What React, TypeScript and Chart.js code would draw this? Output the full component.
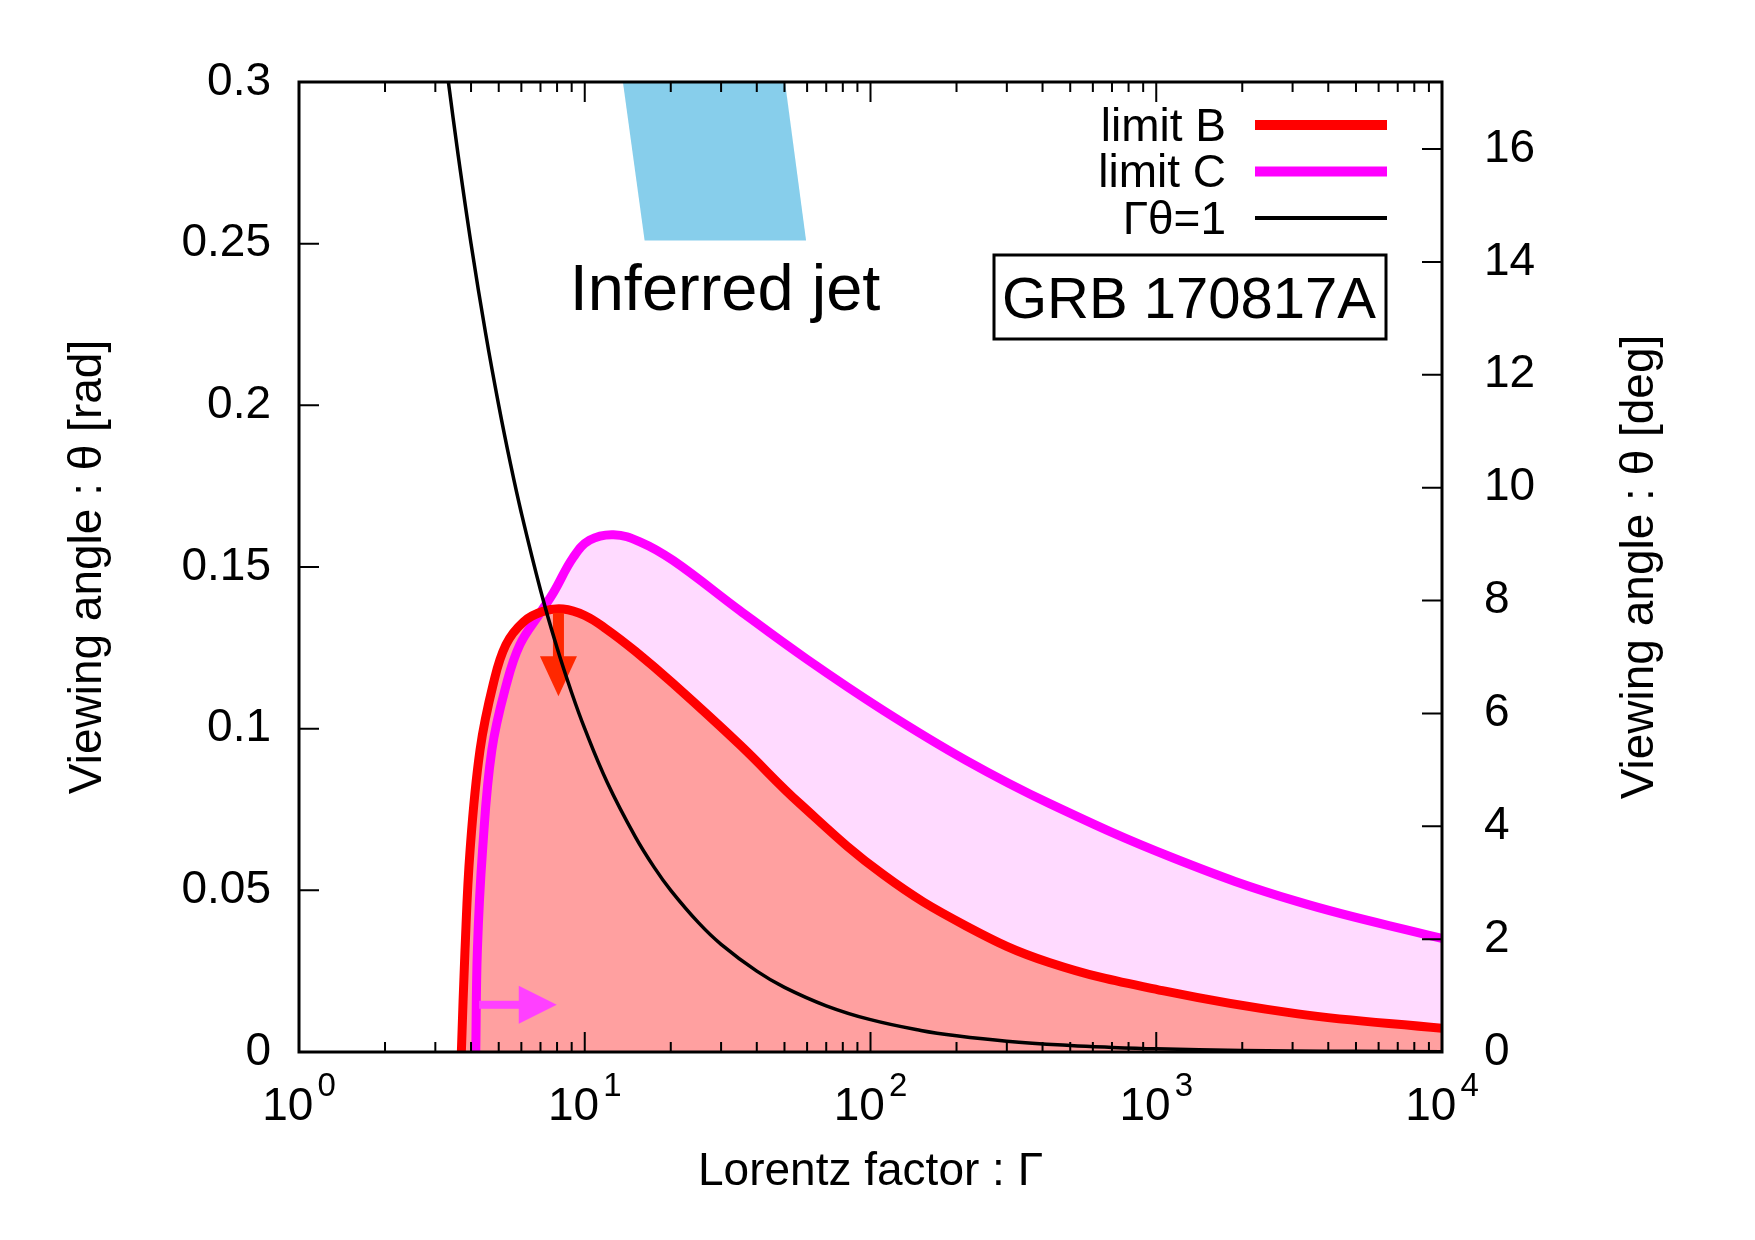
import { useEffect, useRef } from 'react';
import { Chart, registerables } from 'chart.js';

Chart.register(...registerables);

const FONT_FAMILY = '"Liberation Sans", Arial, Helvetica, sans-serif';
const font = (size: number) => `${size}px ${FONT_FAMILY}`;

// limit B curve (Lorentz factor, viewing angle in rad)
const LIMIT_B_GAMMA = [3.70, 3.81, 3.97, 4.30, 4.79, 5.3, 6.1, 7.1, 8.4, 10, 11.9, 15, 20.4, 34.9, 56.6, 110.6, 216, 422, 1074, 3130, 10000];
const LIMIT_B_THETA = [0, 0.0315, 0.0625, 0.0934, 0.114, 0.126, 0.133, 0.1362, 0.1370, 0.1350, 0.1308, 0.1240, 0.1139, 0.0950, 0.0768, 0.0549, 0.0390, 0.0277, 0.0188, 0.0118, 0.0073];

// limit C curve
const LIMIT_C_GAMMA = [4.155, 4.21, 4.39, 4.73, 5.33, 5.93, 6.97, 7.76, 9.12, 10.4, 12.6, 15.6, 20.4, 34.9, 59.8, 110.6, 216, 422, 1148, 3130, 10000];
const LIMIT_C_THETA = [0, 0.0315, 0.0625, 0.0934, 0.114, 0.126, 0.1357, 0.142, 0.153, 0.1583, 0.16, 0.1578, 0.152, 0.1365, 0.1215, 0.1057, 0.0902, 0.0769, 0.0600, 0.0465, 0.0351];

// Γθ = 1 line
const UNITY_GAMMA = [3.333, 3.6, 4, 4.5, 5, 5.5, 6, 7, 8, 9, 10, 12, 15, 17.5, 20, 25, 30, 40, 50, 70, 100, 150, 200, 300, 500, 700, 1000, 2000, 3000, 5000, 10000];
const UNITY_THETA = [0.3, 0.2778, 0.25, 0.2222, 0.2, 0.1818, 0.1667, 0.1429, 0.125, 0.1111, 0.1, 0.0833, 0.0667, 0.0571, 0.05, 0.04, 0.0333, 0.025, 0.02, 0.0143, 0.01, 0.00667, 0.005, 0.00333, 0.002, 0.00143, 0.001, 0.0005, 0.00033, 0.0002, 0.0001];

// inferred jet region (corners: top-left, top-right, bottom-right, bottom-left)
const JET_GAMMA = [13.6, 50.2, 59.5, 16.2];
const JET_THETA = [0.3, 0.3, 0.251, 0.251];

// arrows: [start, end]
const ARROW_B_GAMMA = [8.09, 8.09];
const ARROW_B_THETA = [0.1358, 0.110];
const ARROW_C_GAMMA = [4.27, 7.98];
const ARROW_C_THETA = [0.0146, 0.0146];

// axis ticks
const RAD_TICKS = [0, 0.05, 0.1, 0.15, 0.2, 0.25, 0.3];
const RAD_LABELS = ['0', '0.05', '0.1', '0.15', '0.2', '0.25', '0.3'];
const DEG_TICKS = [0, 2, 4, 6, 8, 10, 12, 14, 16];
const DECADE_EXPONENTS = [0, 1, 2, 3, 4];
const MINOR_MULTIPLIERS = [2, 3, 4, 5, 6, 7, 8, 9];

const LEGEND_LABELS = ['limit B', 'limit C', 'Γθ=1'];
const LEGEND_COLORS = ['#ff0000', '#ff00ff', '#000000'];
const LEGEND_WIDTHS = [10, 10, 4];

const TEXT_SIZE = 46;

const toPoints = (xs: number[], ys: number[]) => xs.map((x, i) => ({ x, y: ys[i] }));

function drawArrow(
  ctx: CanvasRenderingContext2D,
  x1: number, y1: number, x2: number, y2: number,
  shaft: number, headLen: number, headWidth: number, color: string,
) {
  const ang = Math.atan2(y2 - y1, x2 - x1);
  const len = Math.hypot(x2 - x1, y2 - y1);
  ctx.save();
  ctx.translate(x1, y1);
  ctx.rotate(ang);
  ctx.fillStyle = color;
  ctx.fillRect(0, -shaft / 2, len - headLen + 1, shaft);
  ctx.beginPath();
  ctx.moveTo(len, 0);
  ctx.lineTo(len - headLen, -headWidth / 2);
  ctx.lineTo(len - headLen, headWidth / 2);
  ctx.closePath();
  ctx.fill();
  ctx.restore();
}

const decorations = {
  id: 'decorations',
  beforeDatasetsDraw(chart: any) {
    const { ctx, scales } = chart;
    const x = scales.x;
    const y = scales.y;
    ctx.save();
    ctx.beginPath();
    JET_GAMMA.forEach((g, i) => {
      const px = x.getPixelForValue(g);
      const py = y.getPixelForValue(JET_THETA[i]);
      if (i === 0) ctx.moveTo(px, py);
      else ctx.lineTo(px, py);
    });
    ctx.closePath();
    ctx.fillStyle = '#87ceeb';
    ctx.fill();
    ctx.restore();
  },
  afterDatasetDraw(chart: any, args: any) {
    // arrows sit above the limit curves, under the Γθ=1 line
    if (args.index !== 0) return;
    const { ctx, scales } = chart;
    const x = scales.x;
    const y = scales.y;
    drawArrow(
      ctx,
      x.getPixelForValue(ARROW_B_GAMMA[0]), y.getPixelForValue(ARROW_B_THETA[0]),
      x.getPixelForValue(ARROW_B_GAMMA[1]), y.getPixelForValue(ARROW_B_THETA[1]),
      11, 40, 37, 'rgb(255,40,0)',
    );
    drawArrow(
      ctx,
      x.getPixelForValue(ARROW_C_GAMMA[0]), y.getPixelForValue(ARROW_C_THETA[0]),
      x.getPixelForValue(ARROW_C_GAMMA[1]), y.getPixelForValue(ARROW_C_THETA[1]),
      8, 38, 38, 'rgb(255,64,255)',
    );
  },
  afterDraw(chart: any) {
    const { ctx, chartArea: a, scales } = chart;
    const x = scales.x;
    const y2 = scales.y2;
    const y = scales.y;
    ctx.save();
    ctx.strokeStyle = '#000';
    ctx.fillStyle = '#000';

    // tick marks (inward)
    ctx.lineWidth = 2;
    ctx.beginPath();
    RAD_TICKS.forEach((v) => {
      const py = y.getPixelForValue(v);
      ctx.moveTo(a.left, py);
      ctx.lineTo(a.left + 20, py);
    });
    DEG_TICKS.forEach((v) => {
      const py = y2.getPixelForValue(v);
      ctx.moveTo(a.right, py);
      ctx.lineTo(a.right - 20, py);
    });
    DECADE_EXPONENTS.forEach((e) => {
      const px = x.getPixelForValue(Math.pow(10, e));
      ctx.moveTo(px, a.bottom);
      ctx.lineTo(px, a.bottom - 20);
      ctx.moveTo(px, a.top);
      ctx.lineTo(px, a.top + 20);
      if (e < 4) {
        MINOR_MULTIPLIERS.forEach((m) => {
          const mx = x.getPixelForValue(m * Math.pow(10, e));
          ctx.moveTo(mx, a.bottom);
          ctx.lineTo(mx, a.bottom - 10);
          ctx.moveTo(mx, a.top);
          ctx.lineTo(mx, a.top + 10);
        });
      }
    });
    ctx.stroke();

    // frame
    ctx.lineWidth = 3;
    ctx.strokeRect(a.left, a.top, a.right - a.left, a.bottom - a.top);

    // x tick labels: 10^n
    ctx.textBaseline = 'alphabetic';
    ctx.textAlign = 'left';
    DECADE_EXPONENTS.forEach((e) => {
      const px = x.getPixelForValue(Math.pow(10, e));
      ctx.font = font(TEXT_SIZE);
      const wBase = ctx.measureText('10').width;
      ctx.font = font(33);
      const exp = String(e);
      const wExp = ctx.measureText(exp).width;
      const start = px - (wBase + 4 + wExp) / 2;
      ctx.font = font(TEXT_SIZE);
      ctx.fillText('10', start, a.bottom + 68);
      ctx.font = font(33);
      ctx.fillText(exp, start + wBase + 4, a.bottom + 44);
    });

    // axis titles
    ctx.font = font(TEXT_SIZE);
    ctx.textAlign = 'center';
    ctx.fillText('Lorentz factor : Γ', (a.left + a.right) / 2, a.bottom + 133);
    const midY = (a.top + a.bottom) / 2;
    ctx.textBaseline = 'middle';
    ctx.save();
    ctx.translate(88, midY);
    ctx.rotate(-Math.PI / 2);
    ctx.fillText('Viewing angle : θ [rad]', 0, 0);
    ctx.restore();
    ctx.save();
    ctx.translate(1640, midY);
    ctx.rotate(-Math.PI / 2);
    ctx.fillText('Viewing angle : θ [deg]', 0, 0);
    ctx.restore();

    // legend
    ctx.textAlign = 'right';
    ctx.textBaseline = 'middle';
    LEGEND_LABELS.forEach((label, i) => {
      const ly = a.top + 43 + i * 46.5;
      ctx.fillStyle = '#000';
      ctx.font = font(TEXT_SIZE);
      ctx.fillText(label, a.left + 927, ly + 3);
      ctx.fillStyle = LEGEND_COLORS[i];
      ctx.fillRect(a.left + 956, ly - LEGEND_WIDTHS[i] / 2, 132, LEGEND_WIDTHS[i]);
    });

    // event label box
    ctx.fillStyle = '#000';
    ctx.lineWidth = 3;
    ctx.strokeRect(a.left + 695, a.top + 173, 392, 84);
    ctx.font = font(58);
    ctx.textAlign = 'center';
    ctx.textBaseline = 'alphabetic';
    ctx.fillText('GRB 170817A', a.left + 890, a.top + 236);

    // jet label
    ctx.font = font(65);
    ctx.fillText('Inferred jet', a.left + 426, a.top + 228);

    ctx.restore();
  },
};

export default function App() {
  const canvasRef = useRef<HTMLCanvasElement | null>(null);

  useEffect(() => {
    const canvas = canvasRef.current;
    if (!canvas) return;
    const chart = new Chart(canvas, {
      type: 'line',
      data: {
        datasets: [
          {
            label: 'limit B',
            data: toPoints(LIMIT_B_GAMMA, LIMIT_B_THETA),
            borderColor: '#ff0000',
            backgroundColor: 'rgb(255,160,160)',
            borderWidth: 9,
            fill: 'origin',
            pointRadius: 0,
            tension: 0.4,
            order: 1,
          },
          {
            label: 'limit C',
            data: toPoints(LIMIT_C_GAMMA, LIMIT_C_THETA),
            borderColor: '#ff00ff',
            backgroundColor: 'rgb(255,218,255)',
            borderWidth: 9,
            fill: 'origin',
            pointRadius: 0,
            tension: 0.4,
            order: 2,
          },
          {
            label: 'Γθ=1',
            data: toPoints(UNITY_GAMMA, UNITY_THETA),
            borderColor: '#000000',
            borderWidth: 3.5,
            fill: false,
            pointRadius: 0,
            tension: 0.4,
            order: 0,
          },
        ],
      },
      options: {
        responsive: false,
        animation: false,
        devicePixelRatio: 1,
        events: [],
        layout: { padding: { top: 82, left: 0, right: 0, bottom: 0 } },
        plugins: {
          legend: { display: false },
          tooltip: { enabled: false },
          filler: { drawTime: 'beforeDatasetsDraw' },
        } as any,
        scales: {
          x: {
            type: 'logarithmic',
            min: 1,
            max: 10000,
            position: 'bottom',
            grid: { display: false, drawTicks: false },
            border: { display: false },
            ticks: { display: false },
            afterFit: (s: any) => { s.height = 188; },
          },
          y: {
            type: 'linear',
            min: 0,
            max: 0.3,
            position: 'left',
            grid: { display: false, drawTicks: false },
            border: { display: false },
            afterBuildTicks: (s: any) => { s.ticks = RAD_TICKS.map((v) => ({ value: v })); },
            ticks: {
              callback: (_v: any, i: number) => RAD_LABELS[i],
              font: { family: FONT_FAMILY, size: TEXT_SIZE },
              color: '#000',
              padding: 28,
            },
            afterFit: (s: any) => { s.width = 299; },
          },
          y2: {
            type: 'linear',
            min: 0,
            max: (0.3 * 180) / Math.PI,
            position: 'right',
            grid: { display: false, drawTicks: false },
            border: { display: false },
            afterBuildTicks: (s: any) => { s.ticks = DEG_TICKS.map((v) => ({ value: v })); },
            ticks: {
              callback: (v: any) => String(v),
              font: { family: FONT_FAMILY, size: TEXT_SIZE },
              color: '#000',
              padding: 42,
            },
            afterFit: (s: any) => { s.width = 313; },
          },
        },
      } as any,
      plugins: [decorations],
    });
    return () => chart.destroy();
  }, []);

  return (
    <div style={{ position: 'fixed', left: 0, top: 0, width: 1755, height: 1240, background: '#fff' }}>
      <canvas ref={canvasRef} width={1755} height={1240} style={{ display: 'block' }} />
    </div>
  );
}
